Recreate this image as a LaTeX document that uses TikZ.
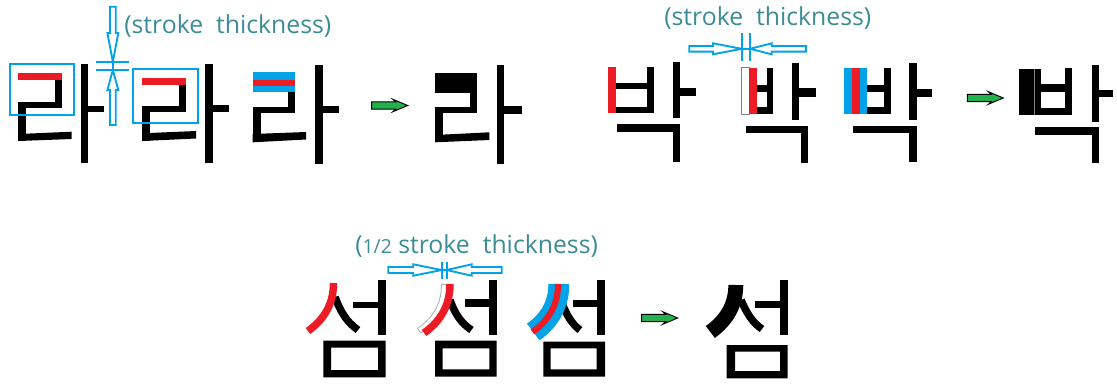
\documentclass[tikz,border=0pt]{standalone}
\usepackage{fontspec}
\newfontfamily\lab{Open Sans}
\definecolor{pblue}{HTML}{00A2E8}
\definecolor{pred}{HTML}{ED1C24}
\definecolor{pgreen}{HTML}{22B14C}
\definecolor{labteal}{HTML}{3C8C96}
\newcommand\goarrow[3]{% x0, tip x, centre y
  \path[goarr] (#1,{#3-3.6}) -- ({#2-12},{#3-3.6}) -- ({#2-15},{#3-6.3}) -- (#2,#3)
    -- ({#2-15},{#3+6.3}) -- ({#2-12},{#3+3.6}) -- (#1,{#3+3.6}) -- cycle;}
\begin{document}
\begin{tikzpicture}[x=0.75pt,y=-0.75pt,
  ink/.style={fill=black},
  hollow/.style={draw=pblue, fill=white, line width=1.4pt, line join=miter},
  dimline/.style={draw=pblue, line width=1.4pt},
  goarr/.style={fill=pgreen, draw=black, line width=0.7pt, line join=miter},
  markbox/.style={draw=pblue, line width=1.5pt},
  stroke/.style={line width=5.6pt, line cap=butt},
  lbl/.style={font=\lab\fontsize{18.6}{22}\selectfont, text=labteal, inner sep=0pt, anchor=west}]
\useasboundingbox (0,0) rectangle (1117,383);

% ---------- glyph 1 : ra ----------
\fill[ink] (55,73.3) rectangle (62.3,108.3);
\fill[ink] (18.3,101.7) rectangle (62.3,108.3);
\fill[ink] (18.3,101.7) rectangle (25.7,141);
\fill[ink] (18.3,134) -- (71.7,131.7) -- (71.7,139) -- (18.3,141) -- cycle;
\fill[ink] (81,64.3) rectangle (88.3,163.3);
\fill[ink] (88,105.7) rectangle (104.3,112.3);
\fill[pred] (18.3,73.3) rectangle (62.3,80);
\draw[markbox] (10,64.3) rectangle (74,115);

% ---------- glyph 2 : ra ----------
\fill[ink] (179.3,78.3) rectangle (186,112.3);
\fill[ink] (142.3,105.7) rectangle (186,112.3);
\fill[ink] (142.3,105.7) rectangle (150,141);
\fill[ink] (142.3,133.3) -- (196,131) -- (196,138.5) -- (142.3,141) -- cycle;
\fill[ink] (205,64.3) rectangle (212.7,163.3);
\fill[ink] (212,105) rectangle (229.3,112.3);
\fill[pred] (142.3,78.3) rectangle (186,85);
\draw[markbox] (133.3,69.3) rectangle (198.3,123.3);

% ---------- glyph 3 : ra ----------
\fill[ink] (288.3,92) rectangle (295,113.3);
\fill[ink] (252.7,106.7) rectangle (295,113.3);
\fill[ink] (252.7,106.7) rectangle (260.7,142.3);
\fill[ink] (252.7,134) -- (306,132) -- (306,139.5) -- (252.7,142.3) -- cycle;
\fill[ink] (315,65) rectangle (322.7,164.3);
\fill[ink] (322,105.7) rectangle (339.3,113.3);
\fill[pblue] (252.7,72.3) rectangle (295,92.3);
\fill[pred] (252.7,80) rectangle (295,85.5);

% dimension mark for ra
\draw[dimline] (96,61.7) -- (129.3,61.7);
\draw[dimline] (96,70) -- (129.3,70);
\draw[dimline] (112.85,61.7) -- (112.85,70);
\draw[hollow] (110,6.7) -- (115.7,6.7) -- (115.7,33) -- (118.3,33) -- (112.85,61.7) -- (107.4,33) -- (110,33) -- cycle;
\draw[hollow] (110,125) -- (115.7,125) -- (115.7,90) -- (118.3,90) -- (112.85,70) -- (107.4,90) -- (110,90) -- cycle;
\node[lbl] (t1) at (124,26.5) {(stroke\ \ thickness)};

\goarrow{371.7}{407.7}{105.5}

% ---------- glyph 4 : ra result ----------
\fill[ink] (435,73.3) rectangle (477.3,92.7);
\fill[ink] (470,92) rectangle (477.3,113.3);
\fill[ink] (435,106.7) rectangle (477.3,113.3);
\fill[ink] (435,106.7) rectangle (442.7,142.3);
\fill[ink] (435,135) -- (489.3,132.3) -- (489.3,140) -- (435,142.3) -- cycle;
\fill[ink] (496.7,65) rectangle (504.3,164.3);
\fill[ink] (504,105.7) rectangle (521.7,114.3);

% ---------- glyph 5 : bak ----------
\fill[ink] (646.7,66.7) rectangle (654,113.3);
\fill[ink] (616,82.7) rectangle (654,89.3);
\fill[ink] (616,106.7) rectangle (654,113.3);
\fill[ink] (672.7,62.3) rectangle (680,118.3);
\fill[ink] (680,87.7) rectangle (695.7,95.7);
\fill[ink] (616.7,124.3) rectangle (680,131.7);
\fill[ink] (672.7,124.3) rectangle (680,161.7);
\fill[pred] (608.3,66.7) rectangle (616,113.3);

% ---------- glyph 6 : bak ----------
\draw[gray, line width=0.5pt, fill=white] (741.7,67.7) rectangle (749.3,114);
\fill[pred] (749.3,67.7) rectangle (756.7,114);
\fill[ink] (766.7,67.7) rectangle (773.3,114);
\fill[ink] (756.7,85) rectangle (773.3,91.7);
\fill[ink] (756.7,106.7) rectangle (773.3,114);
\fill[ink] (791.7,63.3) rectangle (799.3,120);
\fill[ink] (799.3,88.3) rectangle (815.7,96.7);
\fill[ink] (746,126) rectangle (808.3,133.3);
\fill[ink] (801,126) rectangle (808.3,162.7);

% dimension mark for bak
\draw[dimline] (741.7,33.3) -- (741.7,61);
\draw[dimline] (750,33.3) -- (750,61);
\draw[dimline] (741.7,48.8) -- (750,48.8);
\draw[hollow] (689.3,46) -- (713,46) -- (713,43.3) -- (741.7,48.8) -- (713,54.3) -- (713,51.6) -- (689.3,51.6) -- cycle;
\draw[hollow] (806,46) -- (771.7,46) -- (771.7,43.3) -- (750,48.8) -- (771.7,54.3) -- (771.7,51.6) -- (806,51.6) -- cycle;
\node[lbl] (t2) at (664,18.3) {(stroke\ \ thickness)};

% ---------- glyph 7 : bak ----------
\fill[pblue] (844,67.7) rectangle (867.3,114);
\fill[pred] (851.7,67.7) rectangle (860,114);
\fill[ink] (884,67.7) rectangle (890.7,114);
\fill[ink] (867.3,85) rectangle (890.7,91.7);
\fill[ink] (867.3,106.7) rectangle (890.7,114);
\fill[ink] (909.3,63.3) rectangle (916.7,120);
\fill[ink] (916.7,89.3) rectangle (931.7,96.7);
\fill[ink] (853.3,126) rectangle (916.7,133.3);
\fill[ink] (909.3,126) rectangle (916.7,161.7);

\goarrow{967.3}{1003.3}{98}

% ---------- glyph 8 : bak result ----------
\fill[ink] (1019.3,69.3) rectangle (1041,115);
\draw[gray, line width=0.4pt] (1034,69.3) -- (1034,115);
\fill[ink] (1065,68.3) rectangle (1072.3,115);
\fill[ink] (1041,84.3) rectangle (1072.3,92.3);
\fill[ink] (1041,108.3) rectangle (1072.3,115);
\fill[ink] (1091.7,65) rectangle (1099,121.7);
\fill[ink] (1099,90) rectangle (1113.3,97.3);
\fill[ink] (1035,127.3) rectangle (1099,135);
\fill[ink] (1091.7,127.3) rectangle (1099,163.3);

% ---------- glyph 9 : seom ----------
\fill[ink] (353.3,301.7) rectangle (378,308.3);
\fill[ink] (377.7,280) rectangle (385.7,335);
\fill[ink, even odd rule] (323.3,340.5) rectangle (385.7,377.3) (331,347.7) rectangle (378,370);
\draw[stroke, black] (335,297) .. controls (341,313) and (347,322) .. (358,330);
\draw[stroke, pred] (333.5,283) .. controls (333.5,302) and (326,318) .. (308,331);

% ---------- glyph 10 : seom ----------
\fill[ink] (465,299.3) rectangle (489.5,306.7);
\fill[ink] (489.3,280) rectangle (496.7,335);
\fill[ink, even odd rule] (435,340.7) rectangle (496.7,376.7) (442.7,348.3) rectangle (489.3,369.3);
\draw[stroke, black] (450,300) .. controls (455,314) and (461,323) .. (471.5,330);
\draw[line width=4.6pt, gray!70] (444.2,284) .. controls (444.2,303) and (437,318) .. (419,331);
\draw[line width=3.4pt, white] (444.2,284.8) .. controls (444.2,303) and (437,318) .. (419.6,330.4);
\draw[stroke, pred] (450,284) .. controls (450,303) and (442.5,320) .. (424,333);

% dimension mark for seom
\draw[dimline] (441.7,261.7) -- (441.7,279.3);
\draw[dimline] (446.7,261.7) -- (446.7,279.3);
\draw[dimline] (441.7,270) -- (446.7,270);
\draw[hollow] (388.3,267) -- (413.3,267) -- (413.3,264.3) -- (441.7,270) -- (413.3,275.7) -- (413.3,273) -- (388.3,273) -- cycle;
\draw[hollow] (501.7,267) -- (471.7,267) -- (471.7,264.3) -- (446.7,270) -- (471.7,275.7) -- (471.7,273) -- (501.7,273) -- cycle;
\node[lbl] (t3) at (355,246.5) {({\fontsize{14.5}{17}\selectfont 1/2} stroke\ \ thickness)};

% ---------- glyph 11 : seom ----------
\fill[ink] (573.3,300) rectangle (597,307.3);
\fill[ink] (596.7,280) rectangle (605,335);
\fill[ink, even odd rule] (543.3,341.7) rectangle (605,376.7) (550.7,348.3) rectangle (596.7,369.3);
\draw[stroke, black] (562,303) .. controls (567,316) and (572,324) .. (580,330);
\draw[line width=15.7pt, pblue] (558.8,284) .. controls (558.8,303) and (551.3,319) .. (533.3,332);
\draw[line width=4.6pt, pred] (558,284) .. controls (558,303) and (550.5,319) .. (532.5,332);

\goarrow{641.7}{677.7}{318}

% ---------- glyph 12 : seom result ----------
\fill[ink] (755,301) rectangle (780.5,308.3);
\fill[ink] (780,280) rectangle (787.7,335);
\fill[ink, even odd rule] (726.7,345) rectangle (787.7,378.3) (735,351.7) rectangle (780,371);
\draw[stroke, black] (741,300) .. controls (747,314) and (753,323) .. (762,329);
\draw[line width=11.2pt, black] (735.8,285) .. controls (735.8,303) and (728.3,319) .. (710.3,332);
\end{tikzpicture}
\end{document}
